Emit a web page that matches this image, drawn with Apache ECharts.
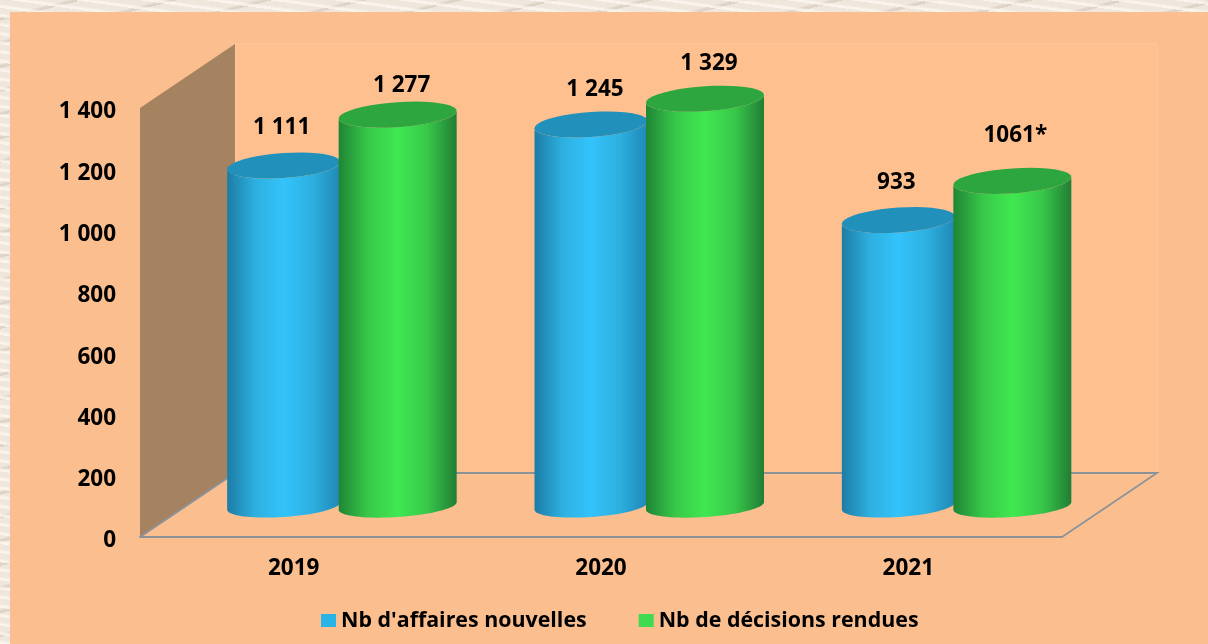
<!DOCTYPE html>
<html>
<head>
    <meta charset="utf-8">
    <title>Affaires nouvelles et décisions rendues</title>
    <script src="https://cdn.jsdelivr.net/npm/echarts@6/dist/echarts.min.js"></script>
    <style>
        html, body { margin: 0; height: 100%; overflow: hidden; }
        body {
            background-color: #efe6dc;
            background-image:
                repeating-linear-gradient(8deg, rgba(255,250,243,0.7) 0 2px, rgba(255,255,255,0) 4px 9px),
                repeating-linear-gradient(-14deg, rgba(190,176,160,0.35) 0 2px, rgba(190,175,160,0) 4px 23px);
        }
        #main { width: 1208px; height: 644px; }
    </style>
</head>
<body>
<div id="main"></div>
<script type="text/javascript">
    var years = ['2019', '2020', '2021'];
    var affaires = [1111, 1245, 933];
    var decisions = [1277, 1329, 1061];
    var affairesLabels = ['1 111', '1 245', '933'];
    var decisionsLabels = ['1 277', '1 329', '1061*'];
    var yTicks = ['0', '200', '400', '600', '800', '1 000', '1 200', '1 400'];

    var fontName = 'Open Sans';
    var font = 'bold 22.5px "Open Sans"';
    var depthX = 95, depthY = 64;      // decalage du fond 3D
    var lineColor = '#8b9298';

    var myChart = echarts.init(document.getElementById('main'));

    // points d'une ellipse un peu inclinee, de angle a1 a angle a2
    function ellipse(cx, cy, rx, ry, a1, a2) {
        var pts = [];
        for (var i = 0; i <= 40; i++) {
            var t = a1 + (a2 - a1) * i / 40;
            var dx = rx * Math.cos(t);
            pts.push([cx + dx, cy + ry * Math.sin(t) - dx * 0.065]);
        }
        return pts;
    }

    function walls(params, api) {
        var g = params.coordSys;
        var l = g.x, r = g.x + g.width, t = g.y, b = g.y + g.height;
        return {
            type: 'group',
            children: [
                { type: 'rect', shape: { x: l + depthX, y: t - depthY, width: g.width, height: g.height + 1 },
                    style: { fill: '#ffc08f', stroke: '#fdc99c', lineWidth: 1 } },
                { type: 'polygon', shape: { points: [[l, t], [l + depthX, t - depthY], [l + depthX, b - depthY], [l, b]] },
                    style: { fill: '#a58260' } },
                { type: 'polyline', shape: { points: [[l, b], [l + depthX, b - depthY], [r + depthX, b - depthY], [r, b]] },
                    style: { fill: 'none', stroke: lineColor, lineWidth: 1.8 } }
            ]
        };
    }

    function cylinder(side, colors, labels, nudges) {
        return function (params, api) {
            var idx = api.value(0);
            var pos = api.coord([idx, api.value(1)]);
            var base = api.coord([idx, 0]);
            var rx = side < 0 ? 56.5 : 59;
            var cx = pos[0] + 47 + side * 57;
            var topY = pos[1] - 31;
            var baseY = base[1] - 31;

            var body = ellipse(cx, baseY, rx, 11, 0, Math.PI)
                .concat(ellipse(cx, topY, rx, 12.5, Math.PI, 0));
            var fill = new echarts.graphic.LinearGradient(0, 0, 1, 0, [
                { offset: 0, color: colors[0] },
                { offset: 0.25, color: colors[1] },
                { offset: 0.5, color: colors[2] },
                { offset: 0.75, color: colors[1] },
                { offset: 1, color: colors[3] }
            ]);
            return {
                type: 'group',
                children: [
                    { type: 'polygon', shape: { points: body }, style: { fill: fill } },
                    { type: 'polygon', shape: { points: ellipse(cx, topY, rx, 12.5, 0, Math.PI * 2) },
                        style: { fill: colors[4] } },
                    { type: 'text', x: cx + nudges[idx][0], y: topY + nudges[idx][1],
                        style: { text: labels[idx], font: font, fill: '#000', align: 'center', verticalAlign: 'middle' } }
                ]
            };
        };
    }

    function toData(values) {
        return values.map(function (v, i) { return [i, v]; });
    }

    var option = {
        animation: false,
        graphic: [{
            type: 'rect', left: 10, top: 12, z: -10,
            shape: { width: 1198, height: 632 },
            style: { fill: '#fbbf8f' }
        }],
        grid: { left: 140, top: 108, width: 922, height: 429 },
        legend: {
            left: 316, top: 605,
            icon: 'rect', itemWidth: 15, itemHeight: 13, itemGap: 52,
            data: ["Nb d'affaires nouvelles", 'Nb de décisions rendues'],
            textStyle: { fontFamily: fontName, fontWeight: 'bold', fontSize: 21.4, color: '#000' }
        },
        xAxis: {
            type: 'category',
            data: years,
            axisLine: { show: true, lineStyle: { color: lineColor, width: 1.8 } },
            axisTick: { show: false },
            axisLabel: { fontFamily: fontName, fontWeight: 'bold', fontSize: 22.5, color: '#000', margin: 20 }
        },
        yAxis: {
            type: 'value',
            min: 0, max: 1400, interval: 200,
            axisLine: { show: false },
            axisTick: { show: false },
            splitLine: { show: false },
            axisLabel: {
                fontFamily: fontName, fontWeight: 'bold', fontSize: 22.5, color: '#000', margin: 24,
                // les graduations sont un peu plus bas que l'axe dans l'original
                verticalAlign: 'top',
                lineHeight: 8,
                formatter: function (v) { return yTicks[v / 200]; }
            }
        },
        series: [
            { type: 'custom', name: 'cadre', data: [[0, 0]], renderItem: walls, silent: true, encode: { x: 0, y: 1 } },
            {
                type: 'custom', name: "Nb d'affaires nouvelles", data: toData(affaires),
                itemStyle: { color: '#29b4e8' }, encode: { x: 0, y: 1 },
                renderItem: cylinder(-1, ['#1d7ca5', '#2db0e0', '#33c3fb', '#2088b5', '#2190bb'], affairesLabels,
                    [[-2, -38], [4, -35], [-2, -38]])
            },
            {
                type: 'custom', name: 'Nb de décisions rendues', data: toData(decisions),
                itemStyle: { color: '#3edb50' }, encode: { x: 0, y: 1 },
                renderItem: cylinder(1, ['#1f8535', '#38c84a', '#40e851', '#217d35', '#2da63f'], decisionsLabels,
                    [[4, -29], [4, -35], [3, -45]])
            }
        ]
    };
    myChart.setOption(option);
</script>
</body>
</html>
